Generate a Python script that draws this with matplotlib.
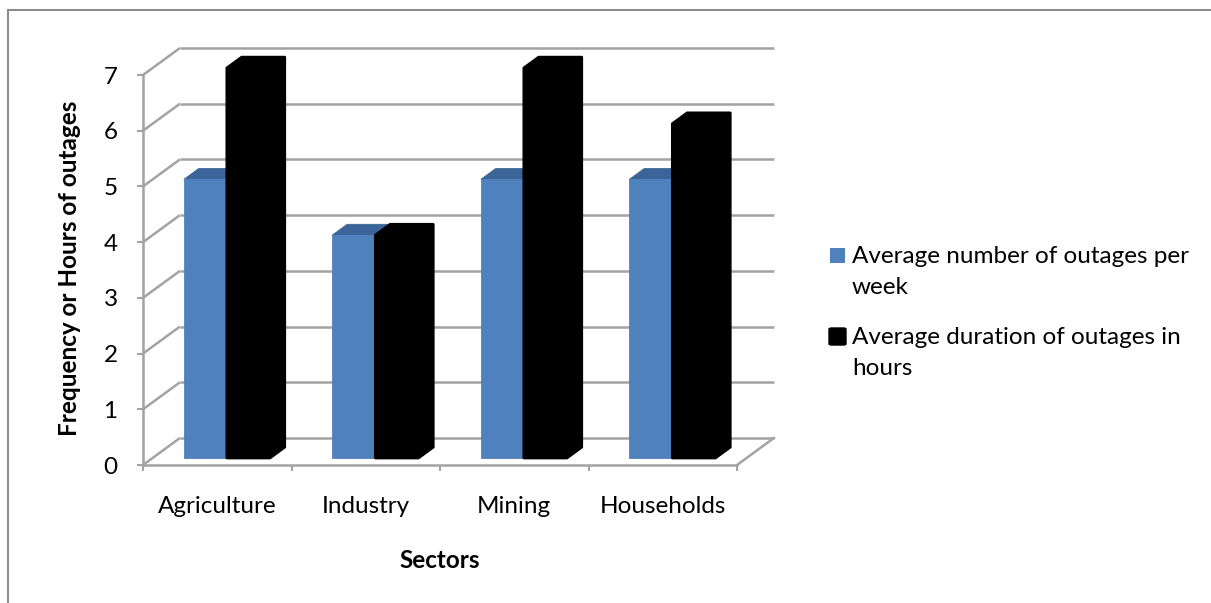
import matplotlib
matplotlib.use("Agg")
import matplotlib.pyplot as plt
from matplotlib.patches import Polygon, Rectangle, FancyBboxPatch

plt.rcParams['font.family'] = ['Lato', 'DejaVu Sans']

sectors = ['Agriculture', 'Industry', 'Mining', 'Households']
outages_per_week = [5, 4, 5, 5]
outage_hours = [7, 4, 7, 6]
series_names = ['Average number of outages per\nweek',
                'Average duration of outages in\nhours']
y_ticks = list(range(0, 8))

W, H = 1211, 603
BLUE = '#4f81bd'
BLUE_TOP = '#3b6598'
GRID = '#a3a3a3'
FS = 17.5

# oblique offset of the back wall, in data units (x: categories, y: values)
DEPTH_X = 0.249
DEPTH_Y = 0.485
# front / back depth of the columns as a fraction of the wall depth
Z_FRONT, Z_BACK = 0.26, 0.66
BAR_W = 0.29


def fx(x):
    return x / W


def fy(y):
    return 1 - y / H


def proj(x, y, z):
    return x + z * DEPTH_X, y + z * DEPTH_Y


def blue_column(ax, x0, x1, v):
    f = [proj(x0, 0, Z_FRONT), proj(x1, 0, Z_FRONT), proj(x1, v, Z_FRONT), proj(x0, v, Z_FRONT)]
    t = [proj(x0, v, Z_FRONT), proj(x1, v, Z_FRONT), proj(x1, v, Z_BACK), proj(x0, v, Z_BACK)]
    ax.add_patch(Polygon(t, closed=True, facecolor=BLUE_TOP, edgecolor=BLUE_TOP, lw=0.6,
                         zorder=2, clip_on=False))
    ax.add_patch(Polygon(f, closed=True, facecolor=BLUE, edgecolor=BLUE, lw=0.6,
                         zorder=2, clip_on=False))


def black_column(ax, x0, x1, v):
    # all three visible faces are black, so draw the outline of the box in one piece
    pts = [proj(x0, 0, Z_FRONT), proj(x1, 0, Z_FRONT), proj(x1, 0, Z_BACK),
           proj(x1, v, Z_BACK), proj(x0, v, Z_BACK), proj(x0, v, Z_FRONT)]
    ax.add_patch(Polygon(pts, closed=True, facecolor='black', edgecolor='black', lw=2,
                         joinstyle='round', zorder=3, clip_on=False))


fig = plt.figure(figsize=(W / 100, H / 100), dpi=100)
fig.patch.set_facecolor('white')

# chart area border (only top and left edges fall inside the image)
fig.add_artist(Rectangle((fx(8), -0.2), 2, fy(10) + 0.2, transform=fig.transFigure,
                         fill=False, edgecolor='#8c8c8c', lw=1.5))

ax = fig.add_axes([fx(143), fy(465), 594 / W, 390 / H])
ax.set_xlim(0, 4)
ax.set_ylim(0, 7)
ax.patch.set_visible(False)
for sp in ('top', 'right'):
    ax.spines[sp].set_visible(False)
for sp in ('left', 'bottom'):
    ax.spines[sp].set_color(GRID)
    ax.spines[sp].set_linewidth(1.8)
    ax.spines[sp].set_zorder(5)

# back wall gridlines and side wall diagonals
n = len(sectors)
for v in y_ticks:
    xa, ya = proj(0, v, 1)
    xb, yb = proj(n, v, 1)
    ax.plot([xa, xb], [ya, yb], color=GRID, lw=1.8, zorder=1, clip_on=False,
            solid_capstyle='butt')
    ax.plot([0, xa], [v, ya], color=GRID, lw=1.8, zorder=1, clip_on=False,
            solid_capstyle='butt')
xr, yr = proj(n, 0, 1)
ax.plot([n, xr], [0, yr], color=GRID, lw=1.8, zorder=1, clip_on=False)

# clustered columns
for i in range(n):
    c = i + 0.5
    blue_column(ax, c - BAR_W, c, outages_per_week[i])
    black_column(ax, c, c + BAR_W, outage_hours[i])

ax.set_yticks(y_ticks)
ax.set_xticks(range(n + 1))
ax.set_xticklabels([])
ax.set_xticks([i + 0.5 for i in range(n)], minor=True)
ax.set_xticklabels(sectors, minor=True)
ax.tick_params(axis='y', length=4.3, width=1.5, color=GRID, pad=14, labelsize=FS)
ax.tick_params(axis='x', which='major', length=4.3, width=1.5, color=GRID)
ax.tick_params(axis='x', which='minor', length=0, pad=22, labelsize=FS)

fig.text(fx(70), fy(268), 'Frequency or Hours of outages', rotation=90,
         ha='center', va='center', fontsize=FS, fontweight='bold')
fig.text(fx(440), fy(560), 'Sectors', ha='center', va='center',
         fontsize=FS, fontweight='bold')

# legend
fig.add_artist(Rectangle((fx(830), fy(263)), 15 / W, 15 / H, transform=fig.transFigure,
                         facecolor=BLUE, edgecolor='none'))
fig.add_artist(FancyBboxPatch((fx(829), fy(345)), 17 / W, 17 / H, transform=fig.transFigure,
                              boxstyle='round,pad=0,rounding_size=0.002',
                              facecolor='black', edgecolor='black', lw=1))
fig.text(fx(852), fy(246), series_names[0], ha='left', va='top', fontsize=FS,
         linespacing=1.6)
fig.text(fx(852), fy(327), series_names[1], ha='left', va='top', fontsize=FS,
         linespacing=1.6)

fig.savefig('out.png', dpi=100)
